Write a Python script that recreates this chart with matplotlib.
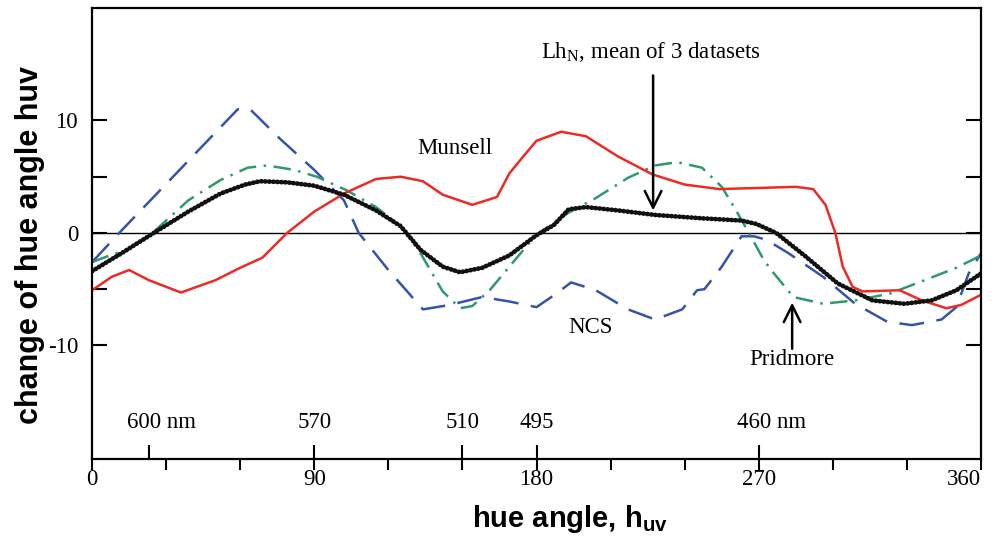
import numpy as np
import matplotlib
matplotlib.use('Agg')
import matplotlib.pyplot as plt

plt.rcParams['font.family'] = 'Liberation Serif'
plt.rcParams['mathtext.fontset'] = 'custom'
plt.rcParams['mathtext.rm'] = 'Liberation Serif'
plt.rcParams['mathtext.bf'] = 'Liberation Sans:bold'

# hue angle (deg) vs change of hue angle
ncs_x = [0, 11, 59, 64, 76, 90, 102, 108, 120, 134, 145, 158, 169, 180, 188, 194,
         204, 217, 228, 239, 245, 248, 255, 263, 268, 273, 282, 296, 309, 322, 332,
         344, 350, 355, 360]
ncs_y = [-2.6, 0, 11.0, 11.0, 8.4, 5.6, 2.9, 0, -3.3, -6.8, -6.4, -5.7, -6.1, -6.6,
         -5.4, -4.4, -5.1, -6.8, -7.7, -6.8, -5.1, -5.0, -3.0, -0.3, -0.3, -0.6,
         -1.8, -3.9, -6.3, -7.9, -8.2, -7.7, -6.6, -3.6, -1.8]

prid_x = [0, 6, 15, 25, 39, 52, 63, 71, 82, 91, 103, 115, 125, 133, 142, 149, 154,
          161, 169, 177, 181, 193, 204, 217, 228, 237, 247, 255, 260, 266, 272, 275,
          284, 296, 309, 323, 336, 350, 360]
prid_y = [-2.6, -2.1, -1.4, 0.1, 2.9, 4.7, 5.8, 6.0, 5.6, 5.0, 3.8, 2.3, 0.6, -1.8,
          -5.2, -6.7, -6.5, -5.1, -3.0, -0.9, 0.0, 1.8, 3.1, 4.9, 6.0, 6.3, 5.8, 4.1,
          2.3, 0.0, -2.4, -3.3, -5.7, -6.3, -6.0, -5.4, -4.3, -3.1, -2.0]

mean_x = [0, 12, 25, 39, 52, 62, 68, 79, 90, 102, 115, 125, 133, 142, 149, 158, 169,
          180, 187, 193, 200, 213, 228, 247, 263, 269, 277, 289, 302, 316, 329, 340,
          350, 360]
mean_y = [-3.4, -1.8, 0, 1.9, 3.5, 4.3, 4.6, 4.5, 4.2, 3.4, 2.0, 0.6, -1.5, -3.0,
          -3.5, -3.1, -2.0, -0.2, 0.7, 2.1, 2.3, 2.0, 1.6, 1.3, 1.1, 0.8, 0.0, -2.1,
          -4.5, -6.0, -6.3, -6.0, -5.1, -3.6]

muns_x = [0, 8, 15, 23, 36, 50, 60, 69, 79, 90, 102, 115, 125, 134, 142, 154, 164,
          169, 175, 180, 190, 200, 213, 227, 240, 254, 270, 285, 292, 297, 301, 304,
          308, 312, 327, 336, 346, 352, 360]
muns_y = [-5.1, -3.9, -3.3, -4.2, -5.3, -4.2, -3.1, -2.2, 0, 1.9, 3.5, 4.8, 5.0, 4.6,
          3.4, 2.5, 3.2, 5.3, 6.9, 8.2, 9.0, 8.6, 6.8, 5.2, 4.3, 3.9, 4.0, 4.1, 3.9,
          2.5, 0.0, -3.0, -4.8, -5.2, -5.1, -6.0, -6.7, -6.4, -5.5]

# wavelength markers along the hue axis
wl_pos = [23, 90, 150, 180, 270]
wl_labels = ['600 nm', '570', '510', '495', '460 nm']

fig = plt.figure(figsize=(9.96, 5.38), dpi=100)
ax = fig.add_axes([0.0924, 0.147, 0.8926, 0.838])

ax.axhline(0, color='black', lw=1.0)
ax.plot(ncs_x, ncs_y, color='#3553a8', lw=1.8, ls=(0, (10, 5)))
ax.plot(prid_x, prid_y, color='#2e9a6c', lw=1.8, ls=(0, (7, 3, 1, 3)))
ax.plot(muns_x, muns_y, color='#ec2a26', lw=1.8)
ax.plot(mean_x, mean_y, color='#111111', lw=3.4, ls=(0, (0.1, 0.75)),
        dash_capstyle='round')

ax.set_xlim(0, 360)
ax.set_ylim(-20.1, 20.0)

for s in ax.spines.values():
    s.set_linewidth(1.6)

ax.xaxis.remove_overlapping_locs = False
ax.set_xticks(np.arange(0, 361, 30))
ax.set_xticklabels(['0', '', '', '90', '', '', '180', '', '', '270', '', '', '360'],
                   fontsize=16.5)
ax.tick_params(axis='x', which='major', direction='out', length=8, width=1.5, pad=-1)
ax.set_xticks(wl_pos, minor=True)
ax.tick_params(axis='x', which='minor', direction='in', length=10, width=1.5)
ax.get_xticklabels()[-1].set_ha('right')

ax.set_yticks([-10, -5, 0, 5, 10])
ax.set_yticklabels(['-10', '', '0', '', '10'], fontsize=16.5)
ax.tick_params(axis='y', direction='in', length=11, width=1.5, pad=10,
               right=True)

for p, t in zip(wl_pos, wl_labels):
    dx = 5 if 'nm' in t else 0
    ax.text(p + dx, -16.9, t, ha='center', va='center', fontsize=16.5)

ax.text(147, 7.5, 'Munsell', ha='center', va='center', fontsize=16.5)
ax.text(201.7, -8.4, 'NCS', ha='center', va='center', fontsize=16.5)
ax.text(283.5, -11.3, 'Pridmore', ha='center', va='center', fontsize=16.5)
ax.text(226.4, 16.1, r'Lh$_{\mathrm{N}}$, mean of 3 datasets', ha='center',
        va='center', fontsize=16.5)

ax.annotate('', xy=(227.2, 2.0), xytext=(227.2, 14.0),
            arrowprops=dict(arrowstyle='->', lw=1.8, color='black',
                            mutation_scale=30, shrinkA=0, shrinkB=0))
ax.annotate('', xy=(283.5, -6.2), xytext=(283.5, -10.3),
            arrowprops=dict(arrowstyle='->', lw=1.8, color='black',
                            mutation_scale=30, shrinkA=0, shrinkB=0))

fig.text(0.572, 0.035, r'hue angle, h$_{\mathbf{uv}}$', ha='center', va='center',
         fontsize=21, fontweight='bold', family='Liberation Sans')
fig.text(0.03, 0.545, 'change of hue angle huv', ha='center', va='center',
         rotation=90, fontsize=22, fontweight='bold', family='Liberation Sans')

fig.savefig('out.png', dpi=100)
